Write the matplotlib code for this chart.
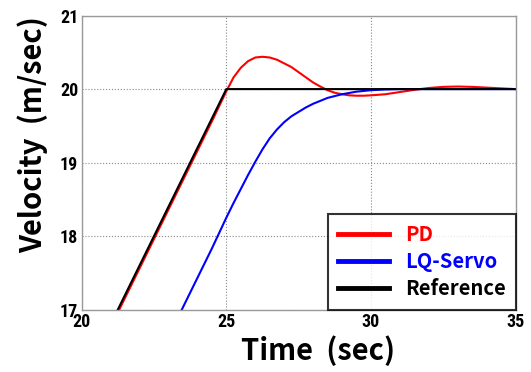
import matplotlib
matplotlib.use("Agg")
import matplotlib.pyplot as plt

# reference ramp then hold at 20 m/s
t_ref = [20, 25, 35]
v_ref = [16.0, 20.0, 20.0]

# PD controller response
t_pd = [20, 21, 22, 23, 24, 24.5, 25, 25.25, 25.5, 25.75, 26, 26.25, 26.5, 26.75,
        27, 27.25, 27.5, 27.75, 28, 28.25, 28.5, 28.75, 29, 29.25, 29.5, 29.75, 30,
        30.5, 31, 31.5, 32, 32.5, 33, 33.5, 34, 34.5, 35]
v_pd = [15.96, 16.76, 17.56, 18.36, 19.16, 19.56, 19.97, 20.16, 20.29, 20.38, 20.43,
        20.44, 20.43, 20.40, 20.35, 20.30, 20.23, 20.16, 20.09, 20.035, 19.985, 19.95,
        19.93, 19.915, 19.91, 19.91, 19.915, 19.93, 19.96, 19.99, 20.015, 20.03,
        20.035, 20.03, 20.02, 20.01, 20.0]

# LQ-Servo response
t_lq = [23.0, 23.5, 24, 24.5, 25, 25.25, 25.5, 25.75, 26, 26.25, 26.5, 26.75, 27,
        27.25, 27.5, 27.75, 28, 28.5, 29, 29.5, 30, 30.5, 31, 35]
v_lq = [16.63, 17.03, 17.43, 17.83, 18.25, 18.45, 18.64, 18.83, 19.01, 19.18, 19.33,
        19.45, 19.55, 19.63, 19.69, 19.75, 19.80, 19.88, 19.93, 19.965, 19.985,
        19.995, 20.0, 20.0]

x_ticks = [20, 25, 30, 35]
y_ticks = [17, 18, 19, 20, 21]

label_font = ["Noto Sans CJK KR", "DejaVu Sans"]
tick_font = ["Liberation Sans Narrow", "Roboto Condensed", "Open Sans Condensed",
             "DejaVu Sans"]

fig = plt.figure(figsize=(5.31, 3.72), dpi=100)
ax = fig.add_axes([0.1539, 0.168, 0.817, 0.790])

ax.plot(t_pd, v_pd, color="red", lw=1.5, label="PD")
ax.plot(t_lq, v_lq, color="blue", lw=1.5, label="LQ-Servo")
ax.plot(t_ref, v_ref, color="black", lw=1.5, label="Reference")

ax.set_xlim(20, 35)
ax.set_ylim(17, 21)
ax.set_xticks(x_ticks)
ax.set_yticks(y_ticks)
ax.grid(True, linestyle=":", color="#888888", lw=0.8)
ax.tick_params(axis="y", length=0, pad=2.5)
ax.tick_params(axis="x", length=0, pad=2.5)
for lab in ax.get_xticklabels() + ax.get_yticklabels():
    lab.set_fontfamily(tick_font)
    lab.set_fontstretch("condensed")
    lab.set_fontweight("bold")
    lab.set_fontsize(13)
for s in ax.spines.values():
    s.set_color("#999999")
    s.set_linewidth(1.0)

ax.set_xlabel("Time  (sec)", fontfamily=label_font, fontweight="bold", fontsize=21)
ax.set_ylabel("Velocity  (m/sec)", fontfamily=label_font, fontweight="bold", fontsize=21)
ax.xaxis.label.set_va("baseline")
ax.yaxis.label.set_va("baseline")
ax.xaxis.set_label_coords(0.5456, -0.172)
ax.yaxis.set_label_coords(-0.0922, 0.594)

leg = ax.legend(loc="lower right", frameon=True, fancybox=False,
                labelcolor="linecolor", borderaxespad=0, handlelength=2.5,
                borderpad=0.5, labelspacing=0.3, handletextpad=0.8,
                prop={"family": label_font, "size": 14.5, "weight": "bold"})
leg.get_frame().set_edgecolor("black")
leg.get_frame().set_linewidth(1.5)
for h in leg.legend_handles:
    h.set_linewidth(3.5)

fig.savefig("out.png", dpi=100)
